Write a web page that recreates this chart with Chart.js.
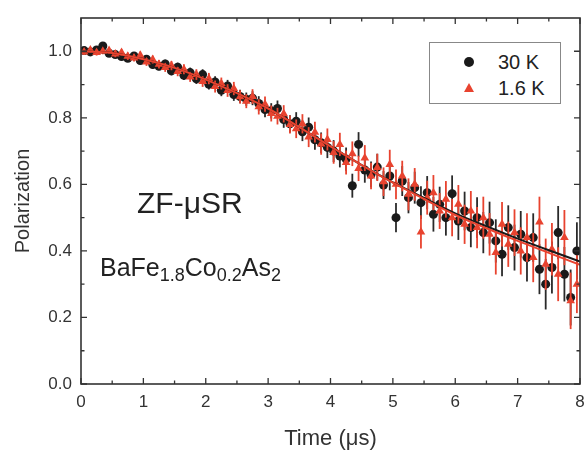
<!DOCTYPE html>
<html>
<head>
<meta charset="utf-8">
<script src="https://cdn.jsdelivr.net/npm/chart.js@4.4.0/dist/chart.umd.min.js"></script>
<style>
  body { margin: 0; background: #fff; }
  #wrap { position: relative; width: 587px; height: 453px; font-family: "Liberation Sans", Arial, sans-serif; color: #222; }
  canvas { position: absolute; left: 0; top: 0; }
  .note { position: absolute; white-space: nowrap; line-height: 1; }
  .note sub { font-size: 0.72em; vertical-align: -0.3em; line-height: 0; }
  #legend { position: absolute; left: 429px; top: 42px; width: 132px; height: 62px; border: 1.5px solid #888; box-sizing: border-box; background: #fff; }
  #legend div { position: absolute; left: 68px; font-size: 20px; line-height: 1; }
  #legend span { position: absolute; }
</style>
</head>
<body>
<div id="wrap">
  <canvas id="chart" width="587" height="453"></canvas>
  <div class="note" style="left:137px; top:188px; font-size:30px;">ZF-μSR</div>
  <div class="note" style="left:100px; top:255px; font-size:25px;">BaFe<sub>1.8</sub>Co<sub>0.2</sub>As<sub>2</sub></div>
  <div id="legend">
    <span style="left:34px; top:14px; width:10px; height:10px; border-radius:50%; background:#1a1a1a;"></span>
    <span style="left:34px; top:40px; width:0; height:0; border-left:5px solid transparent; border-right:5px solid transparent; border-bottom:9px solid #e8432f;"></span>
    <div style="top:9px;">30 K</div>
    <div style="top:35px;">1.6 K</div>
  </div>
</div>
<script>
// time bins (µs)
const times = [0.05, 0.15, 0.25, 0.35, 0.45, 0.55, 0.65, 0.75, 0.85, 0.95,
  1.05, 1.15, 1.25, 1.35, 1.45, 1.55, 1.65, 1.75, 1.85, 1.95,
  2.05, 2.15, 2.25, 2.35, 2.45, 2.55, 2.65, 2.75, 2.85, 2.95,
  3.05, 3.15, 3.25, 3.35, 3.45, 3.55, 3.65, 3.75, 3.85, 3.95,
  4.05, 4.15, 4.25, 4.35, 4.45, 4.55, 4.65, 4.75, 4.85, 4.95,
  5.05, 5.15, 5.25, 5.35, 5.45, 5.55, 5.65, 5.75, 5.85, 5.95,
  6.05, 6.15, 6.25, 6.35, 6.45, 6.55, 6.65, 6.75, 6.85, 6.95,
  7.05, 7.15, 7.25, 7.35, 7.45, 7.55, 7.65, 7.75, 7.85, 7.95];

// 30 K polarization
const pol30K = [1.002, 0.998, 1.004, 1.016, 0.994, 0.990, 0.984, 0.979, 0.986, 0.972,
  0.976, 0.960, 0.955, 0.962, 0.941, 0.952, 0.928, 0.936, 0.917, 0.930,
  0.901, 0.908, 0.883, 0.896, 0.870, 0.864, 0.856, 0.859, 0.843, 0.825,
  0.821, 0.828, 0.795, 0.782, 0.790, 0.758, 0.772, 0.734, 0.725, 0.711,
  0.700, 0.685, 0.676, 0.596, 0.720, 0.643, 0.630, 0.652, 0.598, 0.625,
  0.500, 0.610, 0.560, 0.590, 0.545, 0.575, 0.510, 0.540, 0.500, 0.572,
  0.490, 0.520, 0.470, 0.500, 0.455, 0.485, 0.430, 0.390, 0.470, 0.410,
  0.450, 0.380, 0.440, 0.345, 0.300, 0.350, 0.455, 0.330, 0.260, 0.400];
const err30K = [0.008, 0.008, 0.008, 0.009, 0.009, 0.009, 0.010, 0.010, 0.010, 0.011,
  0.011, 0.012, 0.012, 0.013, 0.013, 0.014, 0.014, 0.015, 0.015, 0.016,
  0.016, 0.017, 0.018, 0.018, 0.019, 0.020, 0.020, 0.021, 0.022, 0.023,
  0.023, 0.024, 0.025, 0.026, 0.027, 0.028, 0.029, 0.030, 0.031, 0.032,
  0.033, 0.034, 0.035, 0.036, 0.037, 0.038, 0.039, 0.040, 0.042, 0.043,
  0.044, 0.045, 0.047, 0.048, 0.049, 0.050, 0.052, 0.053, 0.054, 0.055,
  0.057, 0.058, 0.059, 0.061, 0.062, 0.063, 0.065, 0.066, 0.067, 0.069,
  0.070, 0.072, 0.073, 0.075, 0.076, 0.078, 0.080, 0.082, 0.084, 0.086];

// 1.6 K polarization
const pol16K = [0.998, 1.004, 0.996, 1.000, 1.002, 0.992, 0.996, 0.985, 0.980, 0.988,
  0.968, 0.975, 0.961, 0.951, 0.957, 0.939, 0.946, 0.923, 0.930, 0.909,
  0.918, 0.894, 0.903, 0.882, 0.888, 0.863, 0.850, 0.864, 0.833, 0.841,
  0.813, 0.805, 0.812, 0.780, 0.767, 0.782, 0.742, 0.757, 0.721, 0.735,
  0.696, 0.720, 0.666, 0.692, 0.648, 0.679, 0.625, 0.651, 0.608, 0.660,
  0.600, 0.625, 0.570, 0.600, 0.457, 0.560, 0.575, 0.520, 0.555, 0.500,
  0.540, 0.480, 0.520, 0.470, 0.500, 0.450, 0.395, 0.480, 0.420, 0.455,
  0.400, 0.440, 0.380, 0.487, 0.360, 0.405, 0.330, 0.440, 0.250, 0.300];
const err16K = [0.009, 0.009, 0.009, 0.009, 0.010, 0.010, 0.010, 0.011, 0.011, 0.011,
  0.012, 0.012, 0.013, 0.013, 0.014, 0.014, 0.015, 0.015, 0.016, 0.016,
  0.017, 0.018, 0.018, 0.019, 0.020, 0.020, 0.021, 0.022, 0.023, 0.023,
  0.024, 0.025, 0.026, 0.027, 0.028, 0.029, 0.030, 0.031, 0.032, 0.033,
  0.034, 0.035, 0.036, 0.037, 0.038, 0.039, 0.040, 0.041, 0.043, 0.044,
  0.045, 0.046, 0.048, 0.049, 0.050, 0.051, 0.053, 0.054, 0.055, 0.056,
  0.058, 0.059, 0.060, 0.062, 0.063, 0.064, 0.066, 0.067, 0.068, 0.070,
  0.071, 0.073, 0.074, 0.076, 0.077, 0.079, 0.081, 0.083, 0.085, 0.087];

// fit curves
const fitT = [0, 0.5, 1, 1.5, 2, 2.5, 3, 3.5, 4, 4.5, 5, 5.5, 6, 6.5, 7, 7.5, 8];
const fit30K = [1.000, 0.995, 0.976, 0.950, 0.915, 0.874, 0.828, 0.772, 0.714, 0.658, 0.606, 0.559, 0.513, 0.474, 0.437, 0.402, 0.368];
const fit16K = [1.000, 0.995, 0.976, 0.950, 0.915, 0.874, 0.828, 0.772, 0.714, 0.658, 0.605, 0.556, 0.508, 0.468, 0.430, 0.394, 0.358];

const xTicks = [0, 1, 2, 3, 4, 5, 6, 7, 8];
const xMinor = [0.5, 1.5, 2.5, 3.5, 4.5, 5.5, 6.5, 7.5];
const yTicks = [0, 0.2, 0.4, 0.6, 0.8, 1.0];
const yMinor = [0.1, 0.3, 0.5, 0.7, 0.9];

const RED = '#e8432f';
const BLACK = '#1a1a1a';

const pts = (xs, ys) => xs.map((x, i) => ({ x, y: ys[i] }));

const errorBars = {
    id: 'errorBars',
    beforeDatasetDraw(chart, args) {
        const ds = chart.data.datasets[args.index];
        if (!ds.errors) return;
        const { ctx, chartArea: a, scales: { x, y } } = chart;
        ctx.save();
        ctx.beginPath();
        ctx.rect(a.left, a.top, a.right - a.left, a.bottom - a.top);
        ctx.clip();
        ctx.strokeStyle = ds.errorColor;
        ctx.lineWidth = 1.8;
        ds.data.forEach((p, i) => {
            const px = x.getPixelForValue(p.x);
            ctx.beginPath();
            ctx.moveTo(px, y.getPixelForValue(p.y - ds.errors[i]));
            ctx.lineTo(px, y.getPixelForValue(p.y + ds.errors[i]));
            ctx.stroke();
        });
        ctx.restore();
    },
};

const frame = {
    id: 'frame',
    afterDatasetsDraw(chart) {
        const { ctx, chartArea: a, scales: { x, y } } = chart;
        ctx.save();
        ctx.strokeStyle = '#333';
        ctx.lineWidth = 1.6;
        ctx.strokeRect(a.left, a.top, a.right - a.left, a.bottom - a.top);
        ctx.lineWidth = 1.3;
        ctx.beginPath();
        const tickX = (v, len) => {
            const px = x.getPixelForValue(v);
            ctx.moveTo(px, a.bottom); ctx.lineTo(px, a.bottom - len);
            ctx.moveTo(px, a.top); ctx.lineTo(px, a.top + len);
        };
        const tickY = (v, len) => {
            const py = y.getPixelForValue(v);
            ctx.moveTo(a.left, py); ctx.lineTo(a.left + len, py);
            ctx.moveTo(a.right, py); ctx.lineTo(a.right - len, py);
        };
        xTicks.forEach(v => tickX(v, 6));
        xMinor.forEach(v => tickX(v, 3.5));
        yTicks.forEach(v => tickY(v, 6));
        yMinor.forEach(v => tickY(v, 3.5));
        ctx.stroke();
        ctx.restore();
    },
};

const tickFont = { family: '"Liberation Sans", Arial, sans-serif', size: 17 };

new Chart(document.getElementById('chart'), {
    type: 'scatter',
    data: {
        datasets: [
            {
                label: '1.6 K fit',
                data: pts(fitT, fit16K),
                showLine: true,
                borderColor: RED,
                borderWidth: 2,
                pointRadius: 0,
                cubicInterpolationMode: 'monotone',
                order: 0,
            },
            {
                label: '30 K fit',
                data: pts(fitT, fit30K),
                showLine: true,
                borderColor: BLACK,
                borderWidth: 2,
                pointRadius: 0,
                cubicInterpolationMode: 'monotone',
                order: 1,
            },
            {
                label: '1.6 K',
                data: pts(times, pol16K),
                errors: err16K,
                errorColor: RED,
                pointStyle: 'triangle',
                pointRadius: 5,
                pointBorderWidth: 0,
                backgroundColor: RED,
                borderColor: RED,
                order: 2,
            },
            {
                label: '30 K',
                data: pts(times, pol30K),
                errors: err30K,
                errorColor: '#2a2a2a',
                pointStyle: 'circle',
                pointRadius: 4.5,
                pointBorderWidth: 0,
                backgroundColor: BLACK,
                borderColor: BLACK,
                order: 3,
            },
        ],
    },
    options: {
        responsive: false,
        animation: false,
        devicePixelRatio: 1,
        layout: { padding: { top: 18, right: 7, left: 0, bottom: 0 } },
        plugins: {
            legend: { display: false },
            tooltip: { enabled: false },
        },
        scales: {
            x: {
                type: 'linear',
                min: 0,
                max: 8,
                grid: { display: false, drawTicks: false },
                border: { display: false },
                afterBuildTicks: s => { s.ticks = xTicks.map(v => ({ value: v })); },
                afterFit: s => { s.height = 69; s.paddingLeft = 0; s.paddingRight = 0; },
                ticks: { color: '#333', font: tickFont, padding: 8, callback: v => String(v) },
                title: {
                    display: true, text: 'Time (μs)', color: '#333',
                    font: { family: '"Liberation Sans", Arial, sans-serif', size: 22 },
                    padding: { top: 0, bottom: 1 },
                },
            },
            y: {
                type: 'linear',
                min: 0,
                max: 1.1,
                grid: { display: false, drawTicks: false },
                border: { display: false },
                afterBuildTicks: s => { s.ticks = yTicks.map(v => ({ value: v })); },
                afterFit: s => { s.width = 81; s.paddingTop = 0; s.paddingBottom = 0; },
                ticks: { color: '#333', font: tickFont, padding: 9, callback: v => v.toFixed(1) },
                title: {
                    display: true, text: 'Polarization', color: '#333',
                    font: { family: '"Liberation Sans", Arial, sans-serif', size: 20 },
                    padding: { top: 11, bottom: 0 },
                },
            },
        },
    },
    plugins: [errorBars, frame],
});
</script>
</body>
</html>
